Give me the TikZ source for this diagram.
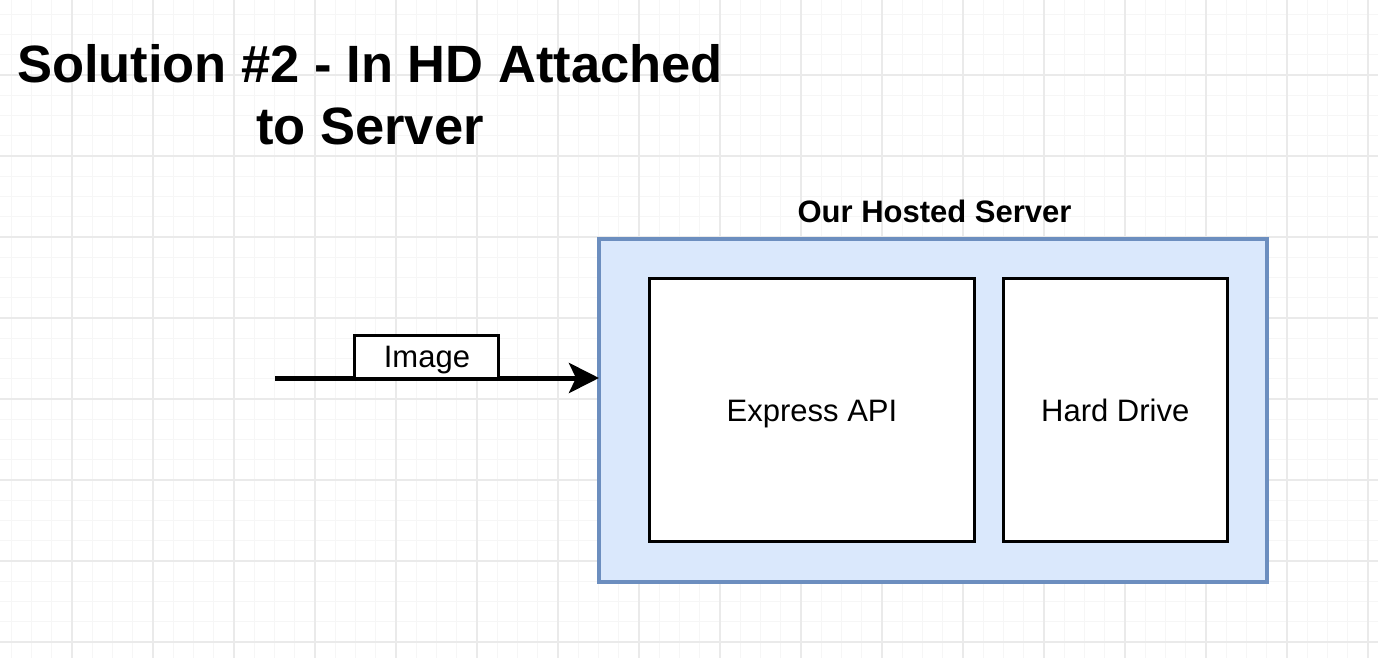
\documentclass[tikz,border=0pt]{standalone}
\usepackage{fontspec}
\setmainfont{Liberation Sans}
\usetikzlibrary{arrows.meta}
\definecolor{gridmajor}{HTML}{EAEAEA}
\definecolor{gridminor}{HTML}{F6F6F6}
\definecolor{serverfill}{HTML}{DAE8FC}
\definecolor{serverdraw}{HTML}{6C8EBF}
\tikzset{
  serverbox/.style={draw=serverdraw, fill=serverfill, line width=3.5pt, inner sep=0pt, outer sep=0pt},
  innerbox/.style={draw=black, fill=white, line width=3pt, inner sep=0pt, outer sep=0pt, text height=22pt, text depth=0pt, font=\fontsize{31}{37}\selectfont},
  imagebox/.style={draw=black, fill=white, line width=3pt, inner sep=0pt, outer sep=0pt, minimum width=144pt, minimum height=43pt, text height=22pt, text depth=0pt, font=\fontsize{31}{37}\selectfont},
  arrowline/.style={draw=black, line width=5pt, -{Stealth[length=30pt, width=30pt, inset=7pt]}},
  titletext/.style={font=\fontsize{52.5}{62}\selectfont\bfseries, align=center, inner sep=0pt},
  grouplabel/.style={font=\fontsize{31}{37}\selectfont\bfseries, inner sep=0pt}
}
\begin{document}
\begin{tikzpicture}[x=1pt,y=-1pt]
\useasboundingbox (0,0) rectangle (1378,658);
\fill[white] (0,0) rectangle (1378,658);
% grid
\foreach \i in {0,...,68} \draw[gridminor, line width=0.9pt] ({-9+20.25*\i},0) -- ({-9+20.25*\i},658);
\foreach \i in {0,...,33} \draw[gridminor, line width=0.9pt] (0,{-6+20.25*\i}) -- (1378,{-6+20.25*\i});
\foreach \i in {0,...,17} \draw[gridmajor, line width=1.1pt] ({-9+81*\i},0) -- ({-9+81*\i},658);
\foreach \i in {0,...,8} \draw[gridmajor, line width=1.1pt] (0,{-6+81*\i}) -- (1378,{-6+81*\i});
% title
\node[titletext] (title) at (370,95) {Solution \#2 - In HD Attached\\to Server};
% server container
\node[serverbox, minimum width=668pt, minimum height=343pt] (server) at (933,410.5) {};
\node[grouplabel, anchor=base] (serverlabel) at (934.5,222) {Our Hosted Server};
\node[innerbox, minimum width=325pt, minimum height=263pt] (express) at (812,410) {Express API};
\node[innerbox, minimum width=223.5pt, minimum height=263pt] (hd) at (1115.25,410) {Hard Drive};
% arrow
\coordinate (start) at (275,378);
\draw[arrowline] (start) -- (start -| server.west)
  node[imagebox, pos=0.469, anchor=south] (img) {Image};
\end{tikzpicture}
\end{document}
